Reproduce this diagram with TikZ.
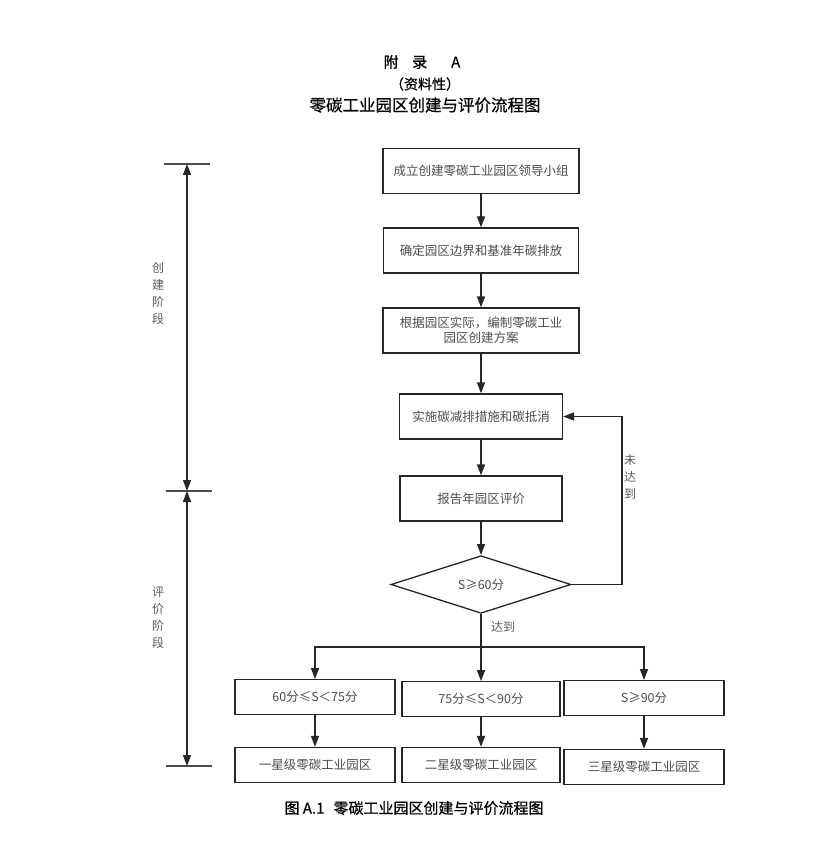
\documentclass[tikz,border=0pt]{standalone}
\usepackage{fontspec}
\newfontfamily\cjk{Noto Sans CJK SC}
\newfontfamily\cjkb[FakeBold=0.6]{Noto Sans CJK SC}
\usetikzlibrary{arrows.meta,shapes.geometric}
\begin{document}
\begin{tikzpicture}[x=1pt,y=-1pt,
  box/.style={draw=black!85, line width=1.3pt, inner sep=0pt, text=black!70,
    font=\cjk\fontsize{12.5}{15}\selectfont, align=center},
  mainbox/.style={box, minimum height=45pt},
  rowbox/.style={box, minimum width=160pt, minimum height=34.5pt},
  arr/.style={line width=1.3pt, draw=black!85, -{Triangle[length=11pt,width=8pt]}},
  dblarr/.style={line width=1.3pt, draw=black!85, {Triangle[length=11pt,width=8pt]}-{Triangle[length=11pt,width=8pt]}},
  tick/.style={line width=1.3pt, draw=black!70},
  side/.style={text=black!65, font=\cjk\fontsize{12}{17}\selectfont, align=center, inner sep=0pt},
  ttl/.style={text=black, inner sep=0pt}
]
\useasboundingbox (0,0) rectangle (813,850);

% titles
\node[ttl, font=\cjkb\fontsize{15}{18}\selectfont] (t1) at (422,62) {附\hspace{0.9em}录\hspace{1.6em}A};
\node[ttl, font=\cjkb\fontsize{14}{17}\selectfont] (t2) at (425,84) {（资料性）};
\node[ttl, font=\cjkb\fontsize{16.5}{20}\selectfont] (t3) at (425,105) {零碳工业园区创建与评价流程图};

% main column
\node[mainbox, minimum width=196pt] (b1) at (481,171) {成立创建零碳工业园区领导小组};
\node[mainbox, minimum width=195pt] (b2) at (481,250.5) {确定园区边界和基准年碳排放};
\node[mainbox, minimum width=196pt] (b3) at (481,330.5) {根据园区实际，编制零碳工业\\园区创建方案};
\node[mainbox, minimum width=163pt] (b4) at (481,416.5) {实施碳减排措施和碳抵消};
\node[mainbox, minimum width=162pt] (b5) at (481,498.5) {报告年园区评价};
\node[box, shape=diamond, minimum width=180pt, minimum height=55pt] (dia) at (481,584.5) {S≥60分};

% result rows
\node[rowbox] (rA) at (315,697) {60分≤S＜75分};
\node[rowbox, minimum width=158pt] (rB) at (481,699) {75分≤S＜90分};
\node[rowbox] (rC) at (644,698) {S≥90分};
\node[rowbox, minimum height=35pt] (sA) at (315,765) {一星级零碳工业园区};
\node[rowbox, minimum width=158pt, minimum height=35pt] (sB) at (481,765) {二星级零碳工业园区};
\node[rowbox, minimum height=35pt] (sC) at (644,767) {三星级零碳工业园区};

% main arrows
\draw[arr] (b1) -- (b2);
\draw[arr] (b2) -- (b3);
\draw[arr] (b3) -- (b4);
\draw[arr] (b4) -- (b5);
\draw[arr] (b5) -- (dia);

% feedback
\coordinate (fb) at (622,0);
\draw[arr] (dia.east) -- (fb |- dia.east) |- (b4.east);
\node[side] (nr) at (630,477) {未\\达\\到};

% branch
\coordinate (br) at (0,647);
\draw[arr] (dia.south) -- (rB.north);
\draw[arr] (dia.south |- br) -| (rA.north);
\draw[arr] (dia.south |- br) -| (rC.north);
\node[side] (ok) at (503,627) {达到};

\draw[arr] (rA) -- (sA);
\draw[arr] (rB) -- (sB);
\draw[arr] (rC) -- (sC);

% left bracket
\coordinate (bt) at (187,164);
\coordinate (bm) at (187,491);
\coordinate (bb) at (187,766);
\draw[tick] ([xshift=-23pt]bt) -- ([xshift=23pt]bt);
\draw[tick] ([xshift=-21pt]bm) -- ([xshift=25pt]bm);
\draw[tick] ([xshift=-21pt]bb) -- ([xshift=25pt]bb);
\draw[dblarr] (bt) -- (bm);
\draw[dblarr] (bm) -- (bb);
\node[side] (s1) at (158,293) {创\\建\\阶\\段};
\node[side] (s2) at (158,618) {评\\价\\阶\\段};

% caption
\node[ttl, font=\cjkb\fontsize{15}{18}\selectfont] (cap) at (414,808) {图 A.1\hspace{0.6em}零碳工业园区创建与评价流程图};
\end{tikzpicture}
\end{document}
